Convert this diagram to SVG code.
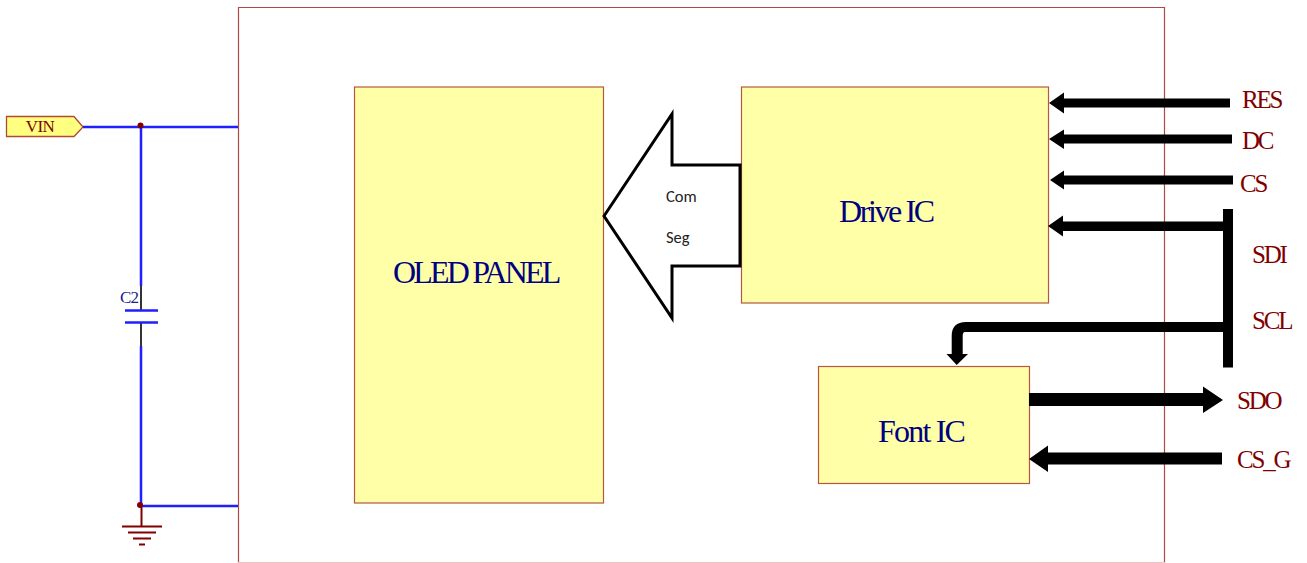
<svg xmlns="http://www.w3.org/2000/svg" width="1307" height="563" viewBox="0 0 1307 563">
<style>
.box{fill:#ffffa8;stroke:#b5583f;stroke-width:1.2}
.ser{font-family:"Liberation Serif","Times New Roman",serif}
.big{fill:#000080;font-size:32px;text-anchor:start}
.sig{fill:#800000;font-size:25px;letter-spacing:-2.2px}
.wire{stroke:#1f1fff;stroke-width:2.5;fill:none}
.red{stroke:#800000;fill:none}
.blk{fill:#000}
.cal{font-family:Carlito,"Open Sans","Liberation Sans",sans-serif;font-size:16.5px;fill:#222}
</style>
<rect width="1307" height="563" fill="#fff"/>
<g id="frame" fill="none"><path d="M238.500 563V7.500H1164.500V563" stroke="#b04848" stroke-width="1.2"/><path d="M238 562.500H1165" stroke="#f0c4c4" stroke-width="1"/></g>
<g id="oled-panel"><rect class="box" x="354.500" y="87" width="249" height="416"/><text class="ser big" x="393" y="282.700" letter-spacing="-2.8">OLED PANEL</text></g>
<g id="drive-ic"><rect class="box" x="741.500" y="87" width="307" height="216"/><text class="ser big" x="839" y="221.700" letter-spacing="-2.400">Drive IC</text></g>
<g id="font-ic"><rect class="box" x="818.500" y="366.500" width="211" height="117"/><text class="ser big" x="878" y="441.500" letter-spacing="-1.800">Font IC</text></g>
<g id="vin"><path d="M6.500 116.500H74L83 127L74 136.500H6.500Z" fill="#ffff80" stroke="#b04a30" stroke-width="1.300"/><text class="ser" x="40" y="132" font-size="17" fill="#800000" text-anchor="middle" letter-spacing="-.5">VIN</text></g>
<g id="c2"><text class="ser" x="120" y="302.500" font-size="17" fill="#1c1c90" letter-spacing="-.8">C2</text>
<path d="M141 286V310M141 322V346" stroke="#333" stroke-width="2" fill="none"/>
<path d="M125 310.500H158M125 322.500H158" class="wire"/></g>
<g id="gnd"><path class="red" stroke-width="2" d="M141.500 505V526M122 526.500H162M128 532.500H156M133 538.500H151M139 544.500H145"/></g>
<g id="connectors">
<path class="wire" d="M83 127H238M141 127V286M141 346V506H238"/>
<circle cx="140.500" cy="125.500" r="3" fill="#800000"/><circle cx="140" cy="505" r="3" fill="#800000"/>
<path d="M604 216L672 114V165H740V266H672V318Z" fill="#fff" stroke="#000" stroke-width="3" stroke-linejoin="miter"/>
<path class="blk" d="M1049 103L1064 92.500V98.500H1230V107.500H1064V113.500Z"/>
<path class="blk" d="M1049 139L1064 129.500V134.500H1232V143.500H1064V149Z"/>
<path class="blk" d="M1050 180L1064 170.500V175.500H1233V184.500H1064V189.500Z"/>
<path class="blk" d="M1048 226L1063 215.500V221.500H1223V209H1233V367.500H1223V332H965Q962.700 332 962.700 336V354H968L956.700 365L946.500 354H951.700V336Q951.700 322 966 322H1223V231H1063V236.500Z"/>
<path class="blk" d="M1029 393H1203V386.500L1223 400L1203 413V406H1029Z"/>
<path class="blk" d="M1029 459L1048 445.500V452.500H1222V464.500H1048V472Z"/>
</g>
<g id="labels">
<text class="ser sig" x="1242" y="108.300">RES</text>
<text class="ser sig" x="1242" y="149">DC</text>
<text class="ser sig" x="1240" y="191.500">CS</text>
<text class="ser sig" x="1252" y="263.300">SDI</text>
<text class="ser sig" x="1252" y="329.300">SCL</text>
<text class="ser sig" x="1237" y="409">SDO</text>
<text class="ser sig" x="1237" y="468">CS_G</text>
<text class="cal" x="666" y="201.700">Com</text>
<text class="cal" x="666" y="242.700">Seg</text>
</g>
</svg>
